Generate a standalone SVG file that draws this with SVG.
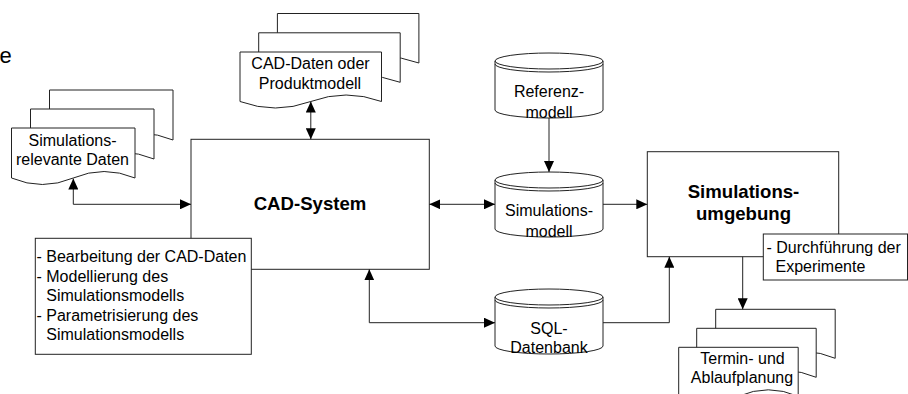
<svg xmlns="http://www.w3.org/2000/svg" width="908" height="394" viewBox="0 0 908 394">
<defs>
<style>
.shape{fill:#fff;stroke:#222;stroke-width:1}
.line{fill:none;stroke:#222;stroke-width:1}
.t{font-family:"Liberation Sans",Arial,sans-serif;font-size:16px;fill:#000}
.c{text-anchor:middle}
.b{font-weight:bold;font-size:18.6px}
</style>
<marker id="ah" viewBox="0 0 11 10" refX="11" refY="5" markerWidth="11" markerHeight="10" markerUnits="userSpaceOnUse" orient="auto-start-reverse">
<path d="M0,0 L11,5 L0,10 z" fill="#000"/>
</marker>
</defs>
<rect width="908" height="394" fill="#fff"/>

<text class="t" x="-0.5" y="62.5" style="font-size:22px">e</text>

<g id="cad-system">
<rect class="shape" x="191" y="139.3" width="238.3" height="130"/>
<text class="t c b" x="310" y="210">CAD-System</text>
</g>

<g id="cad-tasks">
<rect class="shape" x="35.3" y="238.3" width="216" height="116"/>
<text class="t" x="36.5" y="262">- Bearbeitung der CAD-Daten</text>
<text class="t" x="36.5" y="281.5">- Modellierung des</text>
<text class="t" x="46.3" y="301">Simulationsmodells</text>
<text class="t" x="36.5" y="320.5">- Parametrisierung des</text>
<text class="t" x="46.3" y="340">Simulationsmodells</text>
</g>

<g id="sim-relevante-daten">
<path class="shape" d="M49.5,90 H173 V140 Q142.1,127 111.25,140 T49.5,140 Z"/>
<path class="shape" d="M30.5,109 H154 V159 Q123.1,146 92.25,159 T30.5,159 Z"/>
<path class="shape" d="M11.5,128 H135 V178 Q104.1,165 73.25,178 T11.5,178 Z"/>
<text class="t c" x="72.5" y="145.5">Simulations-</text>
<text class="t c" x="72.5" y="165">relevante Daten</text>
</g>

<g id="cad-daten">
<path class="shape" d="M277.4,13.5 H418.9 V63 Q383.5,50 348.15,63 T277.4,63 Z"/>
<path class="shape" d="M258.7,32.8 H400.2 V82.3 Q364.8,69.3 329.45,82.3 T258.7,82.3 Z"/>
<path class="shape" d="M240,52 H381.5 V101.5 Q346.1,88.5 310.75,101.5 T240,101.5 Z"/>
<text class="t c" x="310.5" y="69">CAD-Daten oder</text>
<text class="t c" x="310" y="88.7">Produktmodell</text>
</g>

<g id="referenzmodell">
<path class="shape" d="M495,61 A54,8 0 0 1 603,61 V110 A54,8 0 0 1 495,110 Z"/>
<path class="line" d="M495,61 A54,8 0 0 0 603,61 M495,64 A54,8 0 0 0 603,64"/>
<text class="t c" x="549" y="97">Referenz-</text>
<text class="t c" x="549" y="117.7">modell</text>
</g>

<g id="simulationsmodell">
<path class="shape" d="M495,180 A54,8 0 0 1 603,180 V229 A54,8 0 0 1 495,229 Z"/>
<path class="line" d="M495,180 A54,8 0 0 0 603,180 M495,183 A54,8 0 0 0 603,183"/>
<text class="t c" x="549" y="216">Simulations-</text>
<text class="t c" x="549" y="236.7">modell</text>
</g>

<g id="sql-datenbank">
<path class="shape" d="M495,297 A54,8 0 0 1 603,297 V346 A54,8 0 0 1 495,346 Z"/>
<path class="line" d="M495,297 A54,8 0 0 0 603,297 M495,300 A54,8 0 0 0 603,300"/>
<text class="t c" x="549" y="333.5">SQL-</text>
<text class="t c" x="549" y="353.2">Datenbank</text>
</g>

<g id="simulationsumgebung">
<rect class="shape" x="647.3" y="151.7" width="191.4" height="105"/>
<text class="t c b" x="743.5" y="198.3">Simulations-</text>
<text class="t c b" x="743.5" y="219.5">umgebung</text>
</g>

<g id="durchfuehrung">
<rect class="shape" x="763.3" y="234" width="144.2" height="46"/>
<text class="t" x="766.5" y="252.7">- Durchführung der</text>
<text class="t" x="775.5" y="271.7">Experimente</text>
</g>

<g id="termin">
<path class="shape" d="M715.7,309.3 H835.2 V358.3 Q805.3,345.3 775.45,358.3 T715.7,358.3 Z"/>
<path class="shape" d="M696.7,328.3 H816.2 V377.3 Q786.3,364.3 756.45,377.3 T696.7,377.3 Z"/>
<path class="shape" d="M678.7,347.3 H798.2 V396.3 Q768.3,383.3 738.45,396.3 T678.7,396.3 Z"/>
<text class="t c" x="742.5" y="363.5">Termin- und</text>
<text class="t c" x="742" y="383.3">Ablaufplanung</text>
</g>

<g id="connectors">
<polyline class="line" points="73.3,178.5 73.3,204.3 191,204.3" marker-start="url(#ah)" marker-end="url(#ah)"/>
<line class="line" x1="310.8" y1="101.5" x2="310.8" y2="139.3" marker-start="url(#ah)" marker-end="url(#ah)"/>
<line class="line" x1="429.3" y1="204.3" x2="495" y2="204.3" marker-start="url(#ah)" marker-end="url(#ah)"/>
<line class="line" x1="549" y1="118" x2="549" y2="172" marker-end="url(#ah)"/>
<line class="line" x1="603" y1="204.3" x2="647.3" y2="204.3" marker-end="url(#ah)"/>
<polyline class="line" points="369.3,269.3 369.3,322.7 495,322.7" marker-start="url(#ah)" marker-end="url(#ah)"/>
<polyline class="line" points="603,322.7 669.3,322.7 669.3,256.7" marker-end="url(#ah)"/>
<line class="line" x1="742.7" y1="256.7" x2="742.7" y2="309.3" marker-end="url(#ah)"/>
</g>
</svg>
